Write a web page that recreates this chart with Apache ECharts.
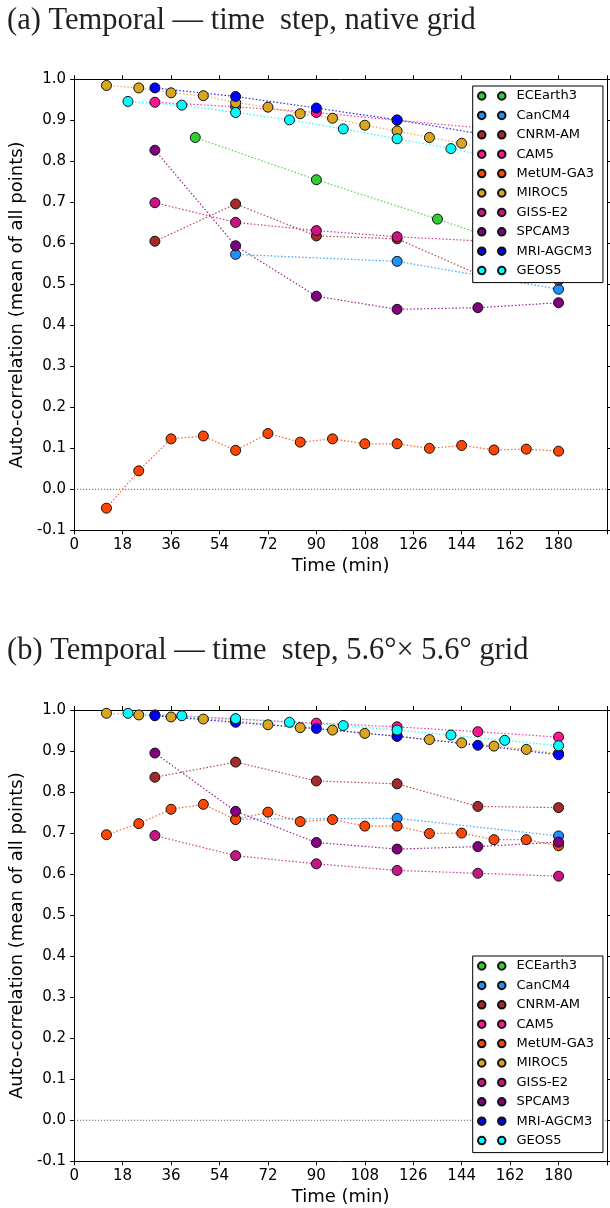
<!DOCTYPE html>
<html>
<head>
<meta charset="utf-8">
<script src="https://cdn.jsdelivr.net/npm/echarts@6/dist/echarts.min.js"></script>
<style>
html,body{margin:0;padding:0;background:#fff;}
#chart{width:610px;height:1208px;}
</style>
</head>
<body>
<div id="chart"></div>
<script>
// ---------- data ----------
const models = ['ECEarth3','CanCM4','CNRM-AM','CAM5','MetUM-GA3','MIROC5','GISS-E2','SPCAM3','MRI-AGCM3','GEOS5'];
const colors = ['#32CD32','#1E90FF','#A52A2A','#FF1493','#FF4500','#DAA520','#C71585','#800080','#0000FF','#00FFFF'];
const xTicks = [0,18,36,54,72,90,108,126,144,162,180];
const yTicks = [-0.1,0.0,0.1,0.2,0.3,0.4,0.5,0.6,0.7,0.8,0.9,1.0];
const titles = ['(a) Temporal \u2014 time  step, native grid', '(b) Temporal \u2014 time  step, 5.6\u00b0\u00d7 5.6\u00b0 grid'];

// time steps (min)
const t12 = [12,24,36,48,60,72,84,96,108,120,132,144,156,168,180];
const t20 = [20,40,60,80,100,120,140,160,180];
const t30 = [30,60,90,120,150,180];
const t45 = [45,90,135,180];
const t60 = [60,120,180];

// panel (a): native grid
const aECEarth3 = [0.858,0.755,0.659,0.557];
const aCanCM4   = [0.573,0.556,0.488];
const aCNRM     = [0.605,0.696,0.618,0.611,0.525,0.510];
const aCAM5     = [0.944,0.933,0.919,0.900,0.882,0.866];
const aMetUM    = [-0.046,0.045,0.123,0.130,0.095,0.136,0.115,0.123,0.111,0.111,0.100,0.107,0.096,0.098,0.093];
const aMIROC5   = [0.985,0.979,0.967,0.960,0.943,0.932,0.916,0.905,0.888,0.874,0.858,0.844,0.826,0.810,0.795];
const aGISS     = [0.699,0.651,0.631,0.616,0.606,0.600];
const aSPCAM3   = [0.827,0.594,0.471,0.439,0.443,0.455];
const aMRI      = [0.979,0.958,0.930,0.901,0.868,0.835];
const aGEOS5    = [0.946,0.937,0.919,0.901,0.879,0.855,0.831,0.803,0.776];

// panel (b): 5.6 x 5.6 grid
const bECEarth3 = [];
const bCanCM4   = [0.734,0.736,0.693];
const bCNRM     = [0.836,0.873,0.827,0.820,0.765,0.762];
const bCAM5     = [0.988,0.978,0.968,0.959,0.947,0.934];
const bMetUM    = [0.696,0.723,0.758,0.770,0.733,0.751,0.728,0.733,0.717,0.717,0.699,0.700,0.684,0.684,0.669];
const bMIROC5   = [0.992,0.988,0.983,0.978,0.975,0.964,0.957,0.951,0.943,0.936,0.928,0.920,0.912,0.904,0.894];
const bGISS     = [0.694,0.645,0.625,0.609,0.602,0.595];
const bSPCAM3   = [0.895,0.753,0.677,0.661,0.667,0.678];
const bMRI      = [0.986,0.970,0.955,0.936,0.914,0.891];
const bGEOS5    = [0.992,0.986,0.979,0.970,0.962,0.951,0.939,0.926,0.913];

const panelA = [[t45,aECEarth3],[t60,aCanCM4],[t30,aCNRM],[t30,aCAM5],[t12,aMetUM],[t12,aMIROC5],[t30,aGISS],[t30,aSPCAM3],[t30,aMRI],[t20,aGEOS5]];
const panelB = [[t45,bECEarth3],[t60,bCanCM4],[t30,bCNRM],[t30,bCAM5],[t12,bMetUM],[t12,bMIROC5],[t30,bGISS],[t30,bSPCAM3],[t30,bMRI],[t20,bGEOS5]];

// ---------- chart ----------
const xMax = 198;
const FONT = 'DejaVu Sans';
const chart = echarts.init(document.getElementById('chart'), null, {renderer:'canvas'});

const grids = [
  {left:70.4, top:79.3, width:536.8, height:451},
  {left:70.4, top:710, width:536.8, height:451.3}
];

function r(cx,cy,rad){
  const k = 0.5523*rad;
  return `M${cx-rad},${cy} C${cx-rad},${cy-k} ${cx-k},${cy-rad} ${cx},${cy-rad} C${cx+k},${cy-rad} ${cx+rad},${cy-k} ${cx+rad},${cy} C${cx+rad},${cy+k} ${cx+k},${cy+rad} ${cx},${cy+rad} C${cx-k},${cy+rad} ${cx-rad},${cy+k} ${cx-rad},${cy} Z `;
}
const legendIcon = 'path://' + r(15,15,15) + r(95,15,15);

const xAxes = [], yAxes = [];
[0,1].forEach(g => {
  xAxes.push({
    type:'value', gridIndex:g, position:'bottom', min:0, max:xMax, interval:18,
    name:'Time (min)', nameLocation:'middle', nameGap:27,
    nameTextStyle:{fontFamily:FONT, fontSize:18, color:'#000'},
    axisLine:{show:true, onZero:false, lineStyle:{color:'#000', width:1}},
    axisTick:{show:true, inside:false, length:4, lineStyle:{color:'#000'}},
    axisLabel:{show:true, margin:7, fontFamily:FONT, fontSize:15, color:'#000',
      formatter: v => (xTicks.indexOf(v) >= 0 ? String(v) : '')},
    splitLine:{show:false}
  });
  xAxes.push({
    type:'value', gridIndex:g, position:'top', min:0, max:xMax, interval:18,
    axisLine:{show:true, onZero:false, lineStyle:{color:'#000', width:1}},
    axisTick:{show:true, inside:false, length:4, lineStyle:{color:'#000'}},
    axisLabel:{show:false}, splitLine:{show:false}
  });
  yAxes.push({
    type:'value', gridIndex:g, position:'left', min:-0.1, max:1.0, interval:0.1,
    name:'Auto-correlation (mean of all points)', nameLocation:'middle', nameGap:45, nameRotate:90,
    nameTextStyle:{fontFamily:FONT, fontSize:18, color:'#000'},
    axisLine:{show:true, onZero:false, lineStyle:{color:'#000', width:1}},
    axisTick:{show:true, inside:false, length:4, lineStyle:{color:'#000'}},
    axisLabel:{show:true, margin:8, fontFamily:FONT, fontSize:15, color:'#000',
      formatter: v => v.toFixed(1)},
    splitLine:{show:false}
  });
  yAxes.push({
    type:'value', gridIndex:g, position:'right', min:-0.1, max:1.0, interval:0.1,
    axisLine:{show:true, onZero:false, lineStyle:{color:'#000', width:1}},
    axisTick:{show:true, inside:false, length:4, lineStyle:{color:'#000'}},
    axisLabel:{show:false}, splitLine:{show:false}
  });
});

const series = [];
[panelA, panelB].forEach((panel, g) => {
  series.push({
    type:'line', xAxisIndex:2*g, yAxisIndex:2*g, silent:true, symbol:'none',
    data:[[0,0],[xMax,0]],
    lineStyle:{color:'#444', width:1, type:[1,2]}, z:1
  });
  panel.forEach((pair, i) => {
    const xs = pair[0], ys = pair[1];
    series.push({
      type:'line', name:models[i], xAxisIndex:2*g, yAxisIndex:2*g,
      data: ys.map((y,k) => [xs[k], y]),
      symbol:'circle', symbolSize:10, showAllSymbol:true,
      itemStyle:{color:colors[i], borderColor:'#111', borderWidth:1, opacity:1},
      lineStyle:{color:colors[i], width:1.2, type:[1.5,2], opacity:0.85},
      z:2
    });
  });
});

function legendCfg(top){
  return {
    show:true, orient:'vertical', left:472.7, top:top,
    data: models.map(n => ({name:n, icon:legendIcon})),
    itemWidth:27.5, itemHeight:7.5, itemGap:6.4,
    padding:[3.5, 9, 5.5, 4.3],
    backgroundColor:'#fff', borderColor:'#000', borderWidth:1, borderRadius:0,
    textStyle:{fontFamily:FONT, fontSize:13, color:'#000', lineHeight:13, padding:[0,0,0,6]},
    selectedMode:false, z:10
  };
}

const option = {
  animation:false,
  backgroundColor:'#fff',
  title: [
    {text:titles[0], left:7, top:5, padding:0,
     textStyle:{fontFamily:'Liberation Serif', fontSize:30.5, fontWeight:'normal', color:'#231f20'}},
    {text:titles[1], left:7, top:635, padding:0,
     textStyle:{fontFamily:'Liberation Serif', fontSize:30.5, fontWeight:'normal', color:'#231f20'}}
  ],
  legend:[legendCfg(86), legendCfg(956)],
  grid: grids,
  xAxis: xAxes,
  yAxis: yAxes,
  series: series
};
chart.setOption(option);
</script>
</body>
</html>
